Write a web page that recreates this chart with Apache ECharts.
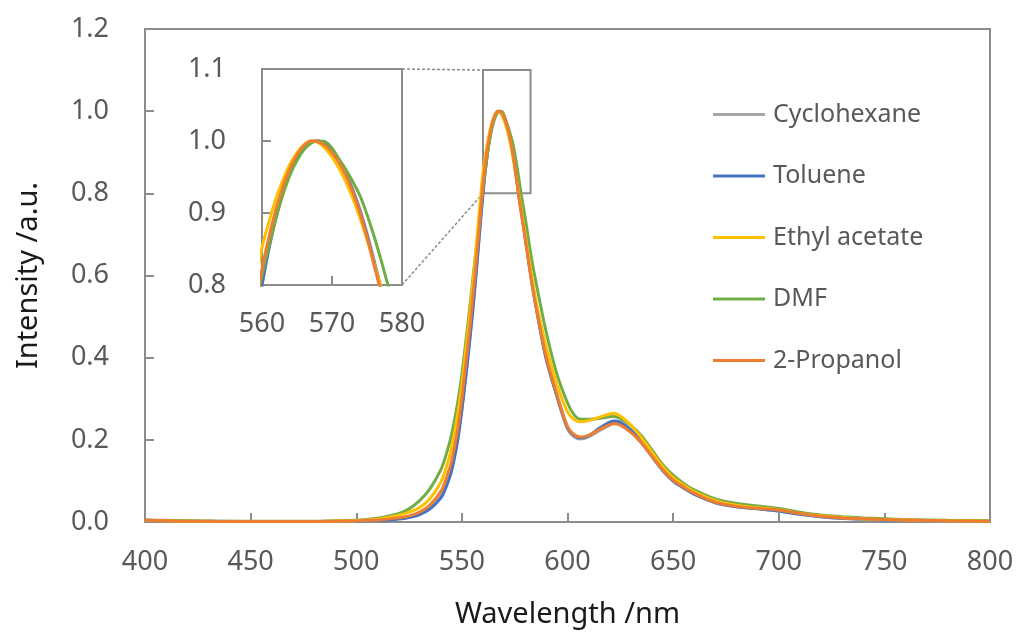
<!DOCTYPE html>
<html>
<head>
<meta charset="utf-8">
<script src="https://cdn.jsdelivr.net/npm/echarts@6/dist/echarts.min.js"></script>
<style>html,body{margin:0;padding:0;background:#fff}#c{width:1017px;height:637px}</style>
</head>
<body>
<div id="c"></div>
<script>
const wavelength = [400,410,420,430,440,450,460,470,480,490,500,
  505,510,515,520,525,530,535,540,
  542,545,548,550,552,554,556,558,559,
  560,561,562,563,564,565,566,567,568,569,570,571,572,573,574,575,576,577,578,579,580,
  583,586,590,595,600,603,606,610,615,620,622,625,630,635,640,645,650,655,660,
  670,680,690,700,710,720,730,740,750,760,780,800];

const seriesNames = ['Cyclohexane','Toluene','Ethyl acetate','DMF','2-Propanol'];
const seriesColors = ['#A5A5A5','#4472C4','#FFC000','#70AD47','#ED7D31'];

const cyclohexane = [0.005,0.004,0.003,0.002,0.002,0.001,0.001,0.001,0.001,0.001,0.002,
  0.003,0.004,0.006,0.008,0.012,0.020,0.035,0.062,
  0.083,0.128,0.205,0.278,0.365,0.46,0.565,0.685,0.745,
  0.80,0.85,0.893,0.928,0.957,0.978,0.992,0.999,1.0,0.995,0.986,0.972,0.955,0.932,0.905,0.872,0.835,0.797,0.762,0.728,0.695,
  0.59,0.50,0.395,0.305,0.226,0.208,0.202,0.207,0.222,0.236,0.240,0.238,0.220,0.192,0.158,0.125,0.099,0.082,0.067,
  0.047,0.037,0.032,0.027,0.019,0.013,0.009,0.007,0.005,0.004,0.003,0.002];

const toluene = [0.004,0.003,0.002,0.002,0.001,0.001,0.001,0.001,0.001,0.001,0.002,
  0.003,0.004,0.005,0.007,0.011,0.018,0.032,0.058,
  0.078,0.122,0.198,0.272,0.36,0.455,0.56,0.68,0.742,
  0.80,0.852,0.895,0.93,0.958,0.979,0.993,0.999,1.0,0.995,0.985,0.971,0.953,0.93,0.902,0.869,0.832,0.794,0.759,0.725,0.692,
  0.588,0.498,0.395,0.307,0.23,0.211,0.205,0.21,0.228,0.243,0.246,0.243,0.224,0.196,0.161,0.127,0.100,0.083,0.068,
  0.047,0.037,0.032,0.027,0.019,0.013,0.009,0.007,0.005,0.004,0.003,0.002];

const ethylAcetate = [0.004,0.003,0.002,0.002,0.001,0.001,0.001,0.001,0.001,0.002,0.003,
  0.005,0.007,0.011,0.016,0.024,0.035,0.058,0.097,
  0.123,0.178,0.262,0.335,0.425,0.52,0.625,0.74,0.798,
  0.852,0.888,0.92,0.946,0.968,0.984,0.995,1.0,0.998,0.99,0.978,0.962,0.943,0.92,0.893,0.863,0.83,0.796,0.763,0.73,0.698,
  0.60,0.515,0.425,0.335,0.268,0.25,0.244,0.247,0.255,0.263,0.265,0.258,0.236,0.205,0.17,0.135,0.108,0.09,0.074,
  0.052,0.041,0.035,0.030,0.021,0.015,0.011,0.008,0.006,0.005,0.003,0.002];

const dmf = [0.004,0.003,0.003,0.002,0.002,0.002,0.002,0.002,0.002,0.003,0.004,
  0.006,0.009,0.014,0.020,0.032,0.052,0.082,0.127,
  0.155,0.21,0.29,0.36,0.445,0.535,0.63,0.725,0.77,
  0.813,0.855,0.893,0.926,0.953,0.973,0.988,0.997,1.0,0.999,0.99,0.975,0.96,0.943,0.924,0.898,0.868,0.835,0.80,0.77,0.74,
  0.64,0.56,0.46,0.36,0.29,0.262,0.25,0.25,0.252,0.256,0.257,0.252,0.235,0.21,0.175,0.14,0.114,0.094,0.078,
  0.056,0.045,0.039,0.033,0.024,0.017,0.013,0.010,0.008,0.006,0.004,0.003];

const propanol = [0.004,0.003,0.002,0.002,0.001,0.001,0.001,0.001,0.001,0.002,0.003,
  0.004,0.005,0.007,0.010,0.015,0.024,0.042,0.074,
  0.097,0.145,0.225,0.30,0.39,0.485,0.59,0.705,0.765,
  0.822,0.867,0.905,0.937,0.962,0.981,0.994,1.0,0.999,0.994,0.984,0.970,0.952,0.928,0.900,0.866,0.828,0.790,0.756,0.722,0.688,
  0.585,0.50,0.40,0.31,0.232,0.213,0.207,0.211,0.225,0.237,0.239,0.236,0.218,0.193,0.160,0.128,0.102,0.085,0.070,
  0.048,0.038,0.033,0.029,0.021,0.014,0.010,0.008,0.006,0.005,0.003,0.002];

const seriesValues = [cyclohexane, toluene, ethylAcetate, dmf, propanol];

const mainXTicks = {min: 400, max: 800, interval: 50};
const mainYTicks = {min: 0, max: 1.2, interval: 0.2};
const insetXTicks = {min: 560, max: 580, interval: 10};
const insetYTicks = {min: 0.8, max: 1.1, interval: 0.1};
const zoomBox = {x0: 560, x1: 582.5, y0: 0.8, y1: 1.1};

const FONT = 'Noto Sans';
const AXIS_COLOR = '#8c8c8c';
const LABEL_COLOR = '#595959';
const TICK_FS = 27;

function pairs(vals){ return wavelength.map((w,i)=>[w, vals[i]]); }

const series = [];
const order = [0,1,3,2,4];
order.forEach(k=>{
  series.push({
    name: seriesNames[k], type:'line', xAxisIndex:0, yAxisIndex:0,
    data: pairs(seriesValues[k]), symbol:'none', smooth:0.3,
    lineStyle:{width:3, color:seriesColors[k]}, itemStyle:{color:seriesColors[k]},
    z: 3
  });
});
order.forEach(k=>{
  series.push({
    name: seriesNames[k], type:'line', xAxisIndex:1, yAxisIndex:1,
    data: pairs(seriesValues[k]), symbol:'none', smooth:0.3, clip:true,
    lineStyle:{width:3, color:seriesColors[k]}, itemStyle:{color:seriesColors[k]},
    z: 3
  });
});
series[0].markArea = {
  silent:true,
  itemStyle:{color:'rgba(0,0,0,0)', borderColor:AXIS_COLOR, borderWidth:2},
  data:[[{coord:[zoomBox.x0, zoomBox.y0]},{coord:[zoomBox.x1, zoomBox.y1]}]]
};

function axisCommon(){
  return {
    axisLine:{show:true, onZero:false, lineStyle:{color:AXIS_COLOR, width:2}},
    axisTick:{show:true, inside:true, length:9, lineStyle:{color:AXIS_COLOR, width:2}},
    splitLine:{show:false},
  };
}

const chart = echarts.init(document.getElementById('c'), null, {renderer:'canvas'});
const option = {
  animation:false,
  backgroundColor:'#fff',
  textStyle:{fontFamily:FONT},
  grid:[
    {left:145, right:27, top:29, bottom:115, show:true, borderColor:AXIS_COLOR, borderWidth:2, backgroundColor:'rgba(0,0,0,0)'},
    {left:262, top:69, width:140, height:216, show:true, borderColor:AXIS_COLOR, borderWidth:2, backgroundColor:'rgba(0,0,0,0)'}
  ],
  legend:{
    orient:'vertical', left:708, top:97,
    icon:'rect', itemWidth:52, itemHeight:3, itemGap:36.5,
    data: seriesNames,
    textStyle:{fontFamily:FONT, fontSize:25, lineHeight:24, color:LABEL_COLOR, padding:[0,0,0,3]}
  },
  xAxis:[
    Object.assign(axisCommon(), {
      type:'value', gridIndex:0, min:mainXTicks.min, max:mainXTicks.max, interval:mainXTicks.interval,
      name:'Wavelength /nm', nameLocation:'middle', nameGap:78,
      nameTextStyle:{fontFamily:FONT, fontSize:29, color:'#1a1a1a'},
      axisLabel:{fontFamily:FONT, fontSize:TICK_FS, color:LABEL_COLOR, margin:27}
    }),
    Object.assign(axisCommon(), {
      type:'value', gridIndex:1, min:insetXTicks.min, max:insetXTicks.max, interval:insetXTicks.interval,
      axisLabel:{fontFamily:FONT, fontSize:TICK_FS, color:LABEL_COLOR, margin:26}
    })
  ],
  yAxis:[
    Object.assign(axisCommon(), {
      type:'value', gridIndex:0, min:mainYTicks.min, max:mainYTicks.max, interval:mainYTicks.interval,
      name:'Intensity /a.u.', nameLocation:'middle', nameGap:102, nameRotate:90,
      nameTextStyle:{fontFamily:FONT, fontSize:29, color:'#1a1a1a'},
      axisLabel:{fontFamily:FONT, fontSize:TICK_FS, color:LABEL_COLOR, margin:36, formatter:v=>v.toFixed(1)}
    }),
    Object.assign(axisCommon(), {
      type:'value', gridIndex:1, min:insetYTicks.min, max:insetYTicks.max, interval:insetYTicks.interval,
      axisLabel:{fontFamily:FONT, fontSize:TICK_FS, color:LABEL_COLOR, margin:36, formatter:v=>v.toFixed(1)}
    })
  ],
  series: series
};
chart.setOption(option);

const insTR = chart.convertToPixel({gridIndex:1}, [insetXTicks.max, insetYTicks.max]);
const insBR = chart.convertToPixel({gridIndex:1}, [insetXTicks.max, insetYTicks.min]);
const boxTL = chart.convertToPixel({gridIndex:0}, [zoomBox.x0, zoomBox.y1]);
const boxBL = chart.convertToPixel({gridIndex:0}, [zoomBox.x0, zoomBox.y0]);
const dash = {stroke:AXIS_COLOR, lineWidth:1.5, lineDash:[3,2]};
chart.setOption({graphic:[
  {type:'line', shape:{x1:insTR[0], y1:insTR[1], x2:boxTL[0], y2:boxTL[1]}, style:dash, silent:true},
  {type:'line', shape:{x1:insBR[0], y1:insBR[1], x2:boxBL[0], y2:boxBL[1]}, style:dash, silent:true}
]});
</script>
</body>
</html>
